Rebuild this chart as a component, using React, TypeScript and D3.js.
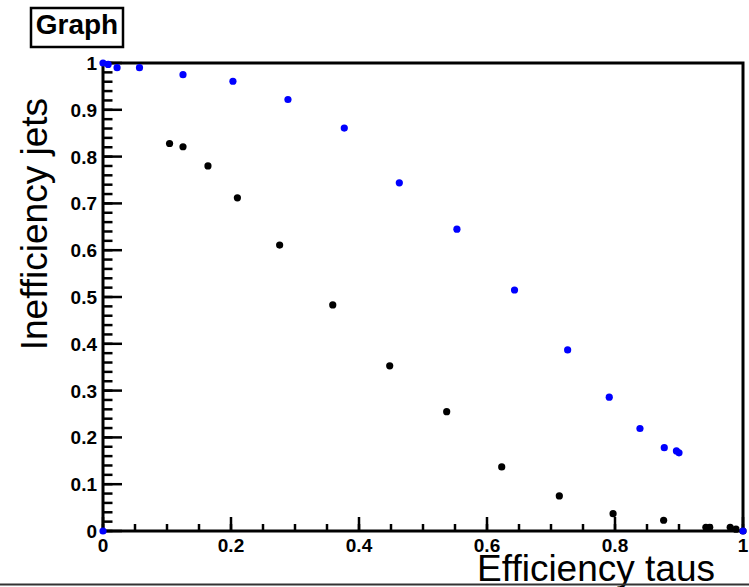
import React from "react";
import * as d3 from "d3";

const blueX = [0, 0.008, 0.022, 0.057, 0.125, 0.203, 0.289, 0.377, 0.463, 0.553, 0.643, 0.726, 0.791, 0.839, 0.877, 0.896, 0.9, 1.0, 0];
const blueY = [1.0, 0.997, 0.99, 0.99, 0.975, 0.961, 0.922, 0.861, 0.744, 0.645, 0.515, 0.387, 0.286, 0.219, 0.178, 0.171, 0.167, 0.0, 0.0];
const blackX = [0.104, 0.125, 0.164, 0.21, 0.276, 0.359, 0.448, 0.537, 0.623, 0.713, 0.797, 0.876, 0.942, 0.948, 0.98, 0.989, 1.0];
const blackY = [0.828, 0.821, 0.78, 0.712, 0.611, 0.483, 0.353, 0.255, 0.137, 0.075, 0.037, 0.023, 0.008, 0.008, 0.008, 0.004, 0.0];
const xTicks = [0, 0.2, 0.4, 0.6, 0.8, 1];
const yTicks = [0, 0.1, 0.2, 0.3, 0.4, 0.5, 0.6, 0.7, 0.8, 0.9, 1];
const xTitle = "Efficiency taus";
const yTitle = "Inefficiency jets";
const title = "Graph";

const W = 749, H = 587;
const L = 103, R = 743, T = 63, B = 531;

export default function App() {
  const x = d3.scaleLinear().domain([0, 1]).range([L, R]);
  const y = d3.scaleLinear().domain([0, 1]).range([B, T]);
  const xMinor = d3.range(0, 1.0001, 0.05).map((v) => +v.toFixed(2));
  const yMinor = d3.range(0, 1.0001, 0.02).map((v) => +v.toFixed(2));
  const font = "'Liberation Sans', Arial, Helvetica, sans-serif";
  const fmt = (v: number) => (v === 0 ? "0" : v === 1 ? "1" : String(+v.toFixed(1)));
  const black = blackX.map((v, i) => [v, blackY[i]]);
  const blue = blueX.map((v, i) => [v, blueY[i]]);
  return (
    <div style={{ position: "fixed", left: 0, top: 0 }}>
      <svg width={W} height={H} style={{ display: "block", background: "#fff" }} fontFamily={font}>
        <rect x={0} y={0} width={W} height={H} fill="#fff" />
        {/* title box */}
        <rect x={31} y={8} width={92} height={39} fill="#fff" stroke="#000" strokeWidth={2.5} />
        <text x={77} y={34} textAnchor="middle" fontSize={28} fontWeight="bold">{title}</text>
        {/* frame */}
        <rect x={L} y={T} width={R - L} height={B - T} fill="none" stroke="#000" strokeWidth={3} />
        {/* x ticks */}
        {xMinor.map((v, i) => (
          <line key={"xm" + i} x1={x(v)} x2={x(v)} y1={B} y2={B - 7} stroke="#000" strokeWidth={2.5} />
        ))}
        {xTicks.map((v, i) => (
          <line key={"xM" + i} x1={x(v)} x2={x(v)} y1={B} y2={B - 14} stroke="#000" strokeWidth={2.5} />
        ))}
        {yMinor.map((v, i) => (
          <line key={"ym" + i} x1={L} x2={L + 9.5} y1={y(v)} y2={y(v)} stroke="#000" strokeWidth={2.5} />
        ))}
        {yTicks.map((v, i) => (
          <line key={"yM" + i} x1={L} x2={L + 19} y1={y(v)} y2={y(v)} stroke="#000" strokeWidth={2.5} />
        ))}
        {xTicks.map((v, i) => (
          <text key={"xl" + i} x={x(v)} y={552} textAnchor="middle" fontSize={19} fontWeight="bold">{fmt(v)}</text>
        ))}
        {yTicks.map((v, i) => (
          <text key={"yl" + i} x={97} y={y(v) + 7} textAnchor="end" fontSize={19} fontWeight="bold">{fmt(v)}</text>
        ))}
        {/* axis titles */}
        <text x={715} y={581} textAnchor="end" fontSize={37}>{xTitle}</text>
        <text transform={`translate(47,98) rotate(-90)`} textAnchor="end" fontSize={37}>{yTitle}</text>
        {/* points */}
        {black.map((p, i) => (
          <circle key={"k" + i} cx={x(p[0])} cy={y(p[1])} r={3.6} fill="#000" />
        ))}
        {blue.map((p, i) => (
          <circle key={"b" + i} cx={x(p[0])} cy={y(p[1])} r={3.6} fill="#0000ff" />
        ))}
        {/* bottom border */}
        <line x1={0} x2={W} y1={584.5} y2={584.5} stroke="#333" strokeWidth={2} />
      </svg>
    </div>
  );
}
